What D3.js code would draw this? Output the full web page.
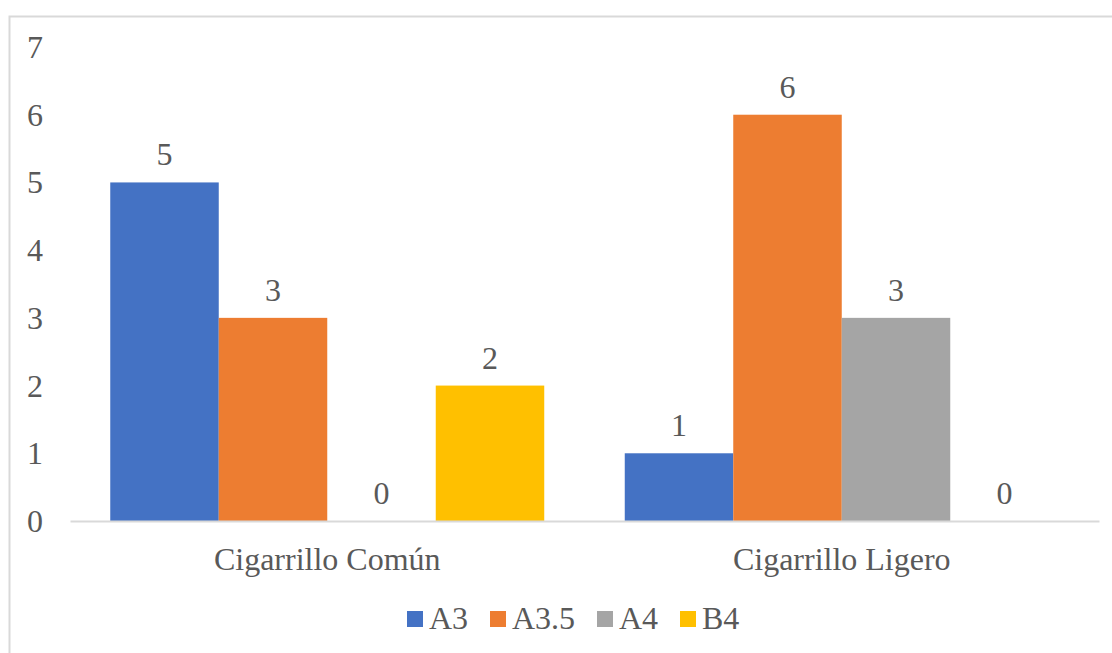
<!DOCTYPE html>
<html>
<head>
<meta charset="utf-8">
<script src="https://cdn.jsdelivr.net/npm/d3@7"></script>
<style>
  html, body { margin: 0; padding: 0; background: #fff; }
  svg { display: block; }
  text { font-family: "Liberation Serif", "Times New Roman", serif; fill: #595959; }
</style>
</head>
<body>
<svg id="chart" width="1112" height="653"></svg>
<script>
// Chart data
const categories = ["Cigarrillo Común", "Cigarrillo Ligero"];
const seriesNames = ["A3", "A3.5", "A4", "B4"];
const seriesColors = ["#4472C4", "#ED7D31", "#A5A5A5", "#FFC000"];
const valuesA3 = [5, 1];
const valuesA35 = [3, 6];
const valuesA4 = [0, 3];
const valuesB4 = [2, 0];
const yTicks = [0, 1, 2, 3, 4, 5, 6, 7];

const seriesValues = [valuesA3, valuesA35, valuesA4, valuesB4];

const svg = d3.select("#chart");
const fontSize = 32;

// Outer chart frame (extends past the right and bottom edges)
svg.append("rect")
  .attr("x", 9.5).attr("y", 16.5)
  .attr("width", 1120).attr("height", 660)
  .attr("fill", "none")
  .attr("stroke", "#d9d9d9")
  .attr("stroke-width", 2);

const plot = { left: 70, right: 1099, top: 47, bottom: 521 };

const x0 = d3.scaleBand()
  .domain(categories)
  .range([plot.left, plot.right])
  .paddingInner(0)
  .paddingOuter(0);

const x1 = d3.scaleBand()
  .domain(seriesNames)
  .range([0, x0.bandwidth()])
  .paddingOuter(0.371)
  .paddingInner(0);

const y = d3.scaleLinear()
  .domain([0, 7])
  .range([plot.bottom, plot.top]);

// Y axis labels (no axis line, no ticks)
const yAxis = d3.axisLeft(y).tickValues(yTicks).tickFormat(d3.format("d")).tickSize(0).tickPadding(0);
const yG = svg.append("g")
  .attr("transform", `translate(43,0)`)
  .call(yAxis);
yG.select(".domain").remove();
yG.selectAll("text")
  .attr("font-size", fontSize)
  .attr("font-family", "Liberation Serif, Times New Roman, serif")
  .attr("fill", "#595959")
  .attr("dy", "0.33em");

// Bars
const groups = svg.append("g").selectAll("g")
  .data(categories)
  .join("g")
  .attr("transform", d => `translate(${x0(d)},0)`);

const barData = (cat, ci) => seriesNames.map((s, si) => ({
  series: s, value: seriesValues[si][ci], color: seriesColors[si]
}));

groups.each(function(cat, ci) {
  const g = d3.select(this);
  const data = barData(cat, ci);
  g.selectAll("rect")
    .data(data)
    .join("rect")
    .attr("x", d => x1(d.series))
    .attr("y", d => y(d.value))
    .attr("width", x1.bandwidth())
    .attr("height", d => y(0) - y(d.value))
    .attr("fill", d => d.color);
  g.selectAll("text.val")
    .data(data)
    .join("text")
    .attr("class", "val")
    .attr("x", d => x1(d.series) + x1.bandwidth() / 2)
    .attr("y", d => y(d.value) - 17)
    .attr("text-anchor", "middle")
    .attr("font-size", fontSize)
    .text(d => d.value);
});

// Category axis baseline
const xAxis = d3.axisBottom(x0).tickSize(0).tickPadding(0);
const xG = svg.append("g")
  .attr("transform", `translate(0,${plot.bottom})`)
  .call(xAxis);
xG.select(".domain")
  .attr("stroke", "#d9d9d9")
  .attr("stroke-width", 2);
xG.selectAll("text")
  .attr("font-size", fontSize)
  .attr("font-family", "Liberation Serif, Times New Roman, serif")
  .attr("fill", "#595959")
  .attr("dy", null)
  .attr("y", 49);

// Legend
const legendX = [407, 490, 597, 680];
const legend = svg.append("g");
seriesNames.forEach((s, i) => {
  legend.append("rect")
    .attr("x", legendX[i]).attr("y", 611)
    .attr("width", 16).attr("height", 16)
    .attr("fill", seriesColors[i]);
  legend.append("text")
    .attr("x", legendX[i] + 22).attr("y", 629)
    .attr("font-size", fontSize)
    .text(s);
});
</script>
</body>
</html>
